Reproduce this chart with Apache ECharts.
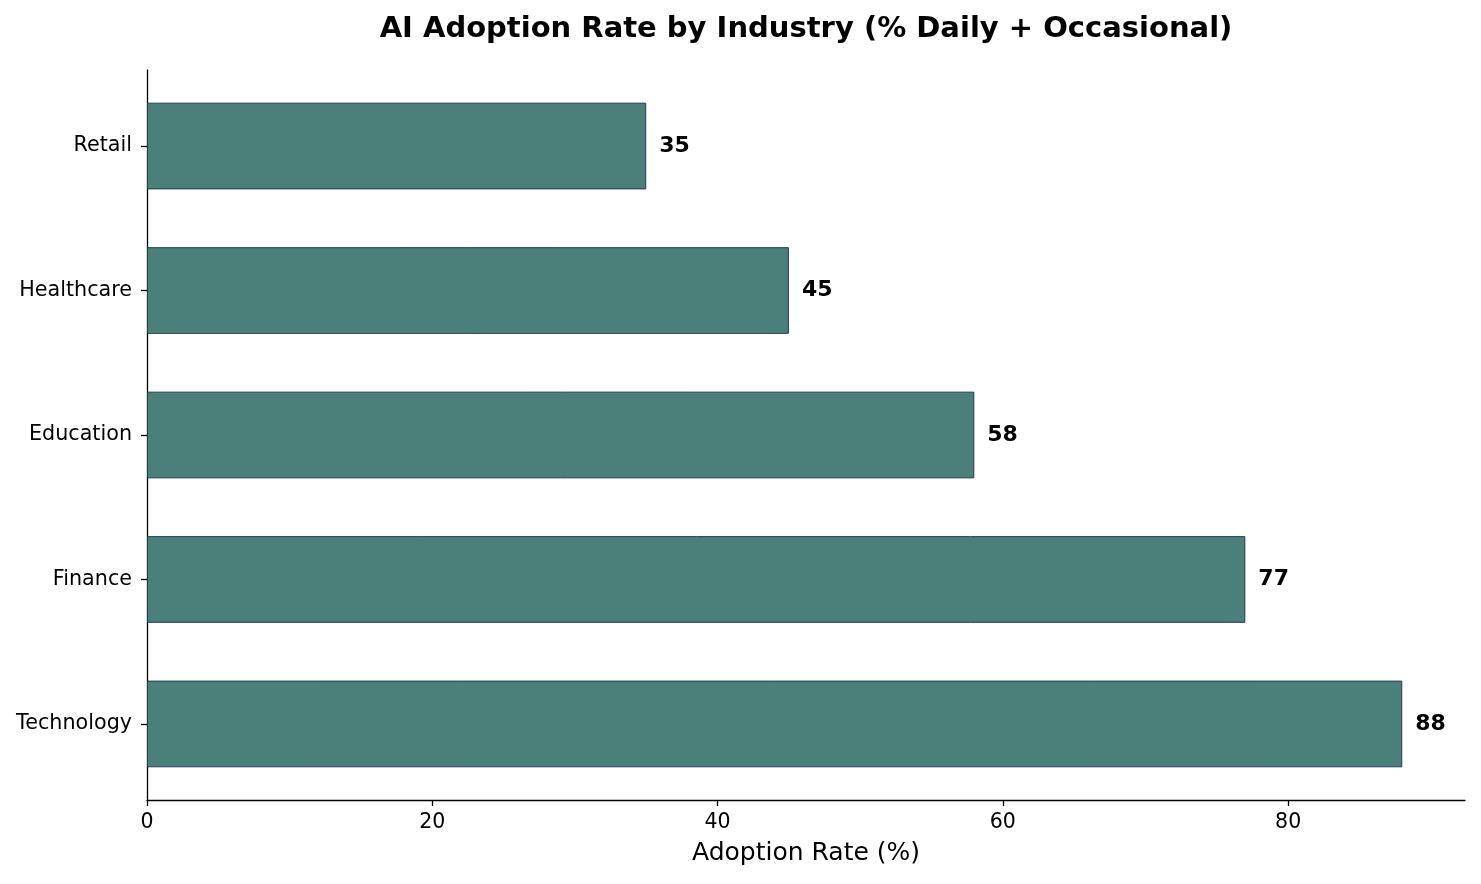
<!DOCTYPE html>
<html>
<head>
<meta charset="utf-8">
<script src="https://cdn.jsdelivr.net/npm/echarts@6/dist/echarts.min.js"></script>
<style>html,body{margin:0;padding:0;background:#fff}#c{width:1481px;height:884px}</style>
</head>
<body>
<div id="c"></div>
<script>
const categories = ['Technology', 'Finance', 'Education', 'Healthcare', 'Retail'];
const values = [88, 77, 58, 45, 35];
const xTicks = [0, 20, 40, 60, 80];

const FONT = 'DejaVu Sans';
const chart = echarts.init(document.getElementById('c'), null, {renderer: 'canvas'});
const xMax = 92.4;
chart.setOption({
  animation: false,
  backgroundColor: '#ffffff',
  title: {
    text: 'AI Adoption Rate by Industry (% Daily + Occasional)',
    left: 801, top: 10, textAlign: 'center',
    textStyle: {fontFamily: FONT, fontSize: 29, fontWeight: 'bold', color: '#000'}
  },
  grid: [
    {left: 147, right: 16, top: 70, height: 730, containLabel: false},
    {left: 147, right: 16, top: 73.8, height: 722.4, containLabel: false}
  ],
  xAxis: [
    {
      gridIndex: 0, type: 'value', min: 0, max: xMax,
      name: 'Adoption Rate (%)', nameLocation: 'middle', nameGap: 41,
      nameTextStyle: {fontFamily: FONT, fontSize: 25, color: '#000'},
      axisLine: {show: true, lineStyle: {color: '#000', width: 1.3}},
      axisTick: {show: true, length: 6, customValues: xTicks, lineStyle: {color: '#000', width: 1.3}},
      axisLabel: {fontFamily: FONT, fontSize: 20.5, color: '#000', margin: 12, customValues: xTicks},
      splitLine: {show: false}
    },
    {
      gridIndex: 1, type: 'value', min: 0, max: xMax, show: false
    }
  ],
  yAxis: [
    {
      gridIndex: 0, type: 'value', min: 0, max: 1,
      axisLine: {show: true, lineStyle: {color: '#000', width: 1.3}},
      axisTick: {show: false}, axisLabel: {show: false}, splitLine: {show: false}
    },
    {
      gridIndex: 1, type: 'category', data: categories,
      axisLine: {show: false},
      axisTick: {show: true, alignWithLabel: true, length: 6, lineStyle: {color: '#000', width: 1.3}},
      axisLabel: {fontFamily: FONT, fontSize: 20.7, color: '#000', margin: 15, padding: [4, 0, 0, 0]},
      splitLine: {show: false}
    }
  ],
  series: [{
    type: 'bar', xAxisIndex: 1, yAxisIndex: 1,
    data: values,
    barWidth: '60%',
    itemStyle: {color: '#4a8079', borderColor: '#1f3a5f', borderWidth: 1},
    label: {
      show: true, position: 'right', distance: 13,
      fontFamily: FONT, fontSize: 22, fontWeight: 'bold', color: '#000'
    }
  }]
});
</script>
</body>
</html>
